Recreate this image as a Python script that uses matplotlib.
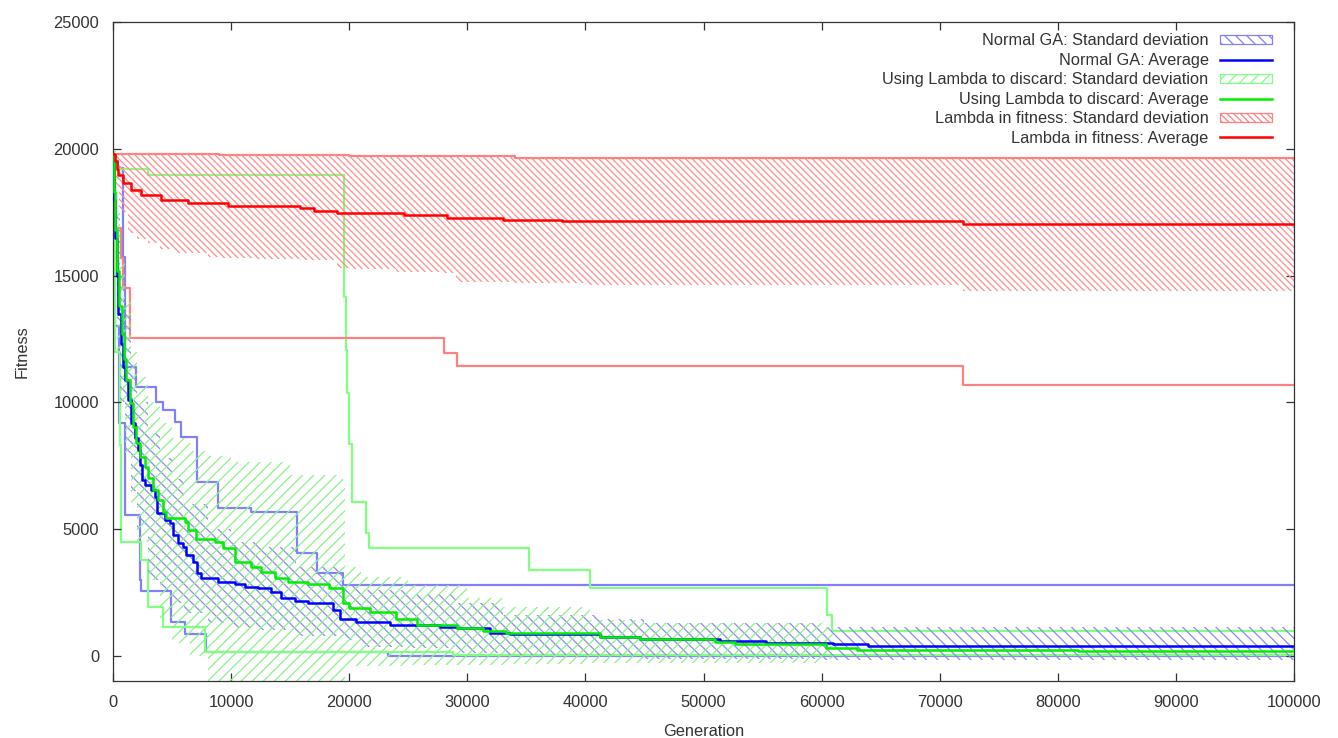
import matplotlib
matplotlib.use('Agg')
import matplotlib.pyplot as plt
from matplotlib.patches import Patch
from matplotlib.lines import Line2D

plt.rcParams['font.family'] = ['Liberation Sans', 'DejaVu Sans']
plt.rcParams['hatch.linewidth'] = 0.9

# Normal GA
blue_avg_x = [0, 50, 150, 300, 450, 650, 850, 1000, 1270, 1550, 1835, 2120, 2315, 2485, 2680, 3240, 3530,
              3750, 4380, 4800, 5080, 5500, 5930, 6210, 6770, 7140, 7480, 8890, 10300, 11150, 12280, 13400,
              14250, 15380, 16500, 18650, 19200, 20600, 23450, 27700, 29100, 31900,
              33600, 41200, 44600, 51400, 55300, 61000, 63900, 100000]
blue_avg_y = [19500, 18000, 16500, 15000, 13500, 12300, 11400, 10900, 10090, 9180, 8580, 8120, 7530, 6940,
              6740, 6545, 6280, 5630, 5360, 5230, 4770, 4440, 4310, 3980, 3720, 3260, 3060, 2930, 2840, 2730,
              2670, 2540, 2270, 2180, 2080, 1820, 1450, 1350, 1230, 1160, 1100, 900,
              870, 740, 660, 600, 525, 475, 400, 400]
blue_sd_x = [0, 300, 600, 1000, 1500, 2000, 3000, 4000, 5000, 6000, 8000, 10000, 12500, 15500, 19500,
             21000, 25000, 29000, 33000, 41000, 45000, 60000, 100000]
blue_sd_hi = [19700, 17500, 15000, 13500, 11500, 10000, 8800, 7800, 7000, 6000, 5000, 4500, 4300, 3520, 2800,
              2600, 2450, 2100, 1615, 1450, 1290, 1155, 1155]
blue_sd_lo = [19300, 13000, 10000, 8000, 6500, 5000, 3000, 2600, 2100, 1700, 1290, 1100, 1025, 800, 630,
              367, 300, 105, 40, 0, -100, -150, -225]
blue_max_x = [0, 420, 850, 1045, 1975, 3670, 4230, 5220, 5790, 7140, 8890, 11710, 15600, 17300, 19500, 100000]
blue_max_y = [19500, 19230, 15750, 11410, 10620, 10030, 9700, 9240, 8650, 6875, 5820, 5690, 4075, 3260, 2800, 2800]
blue_min_x = [0, 200, 500, 990, 2260, 2400, 4940, 6070, 7900, 23300, 100000]
blue_min_y = [18500, 13000, 9200, 5560, 3000, 2575, 1353, 867, 170, 0, 0]

# Using Lambda to discard
green_avg_x = [0, 50, 150, 300, 500, 750, 950, 1130, 1410, 1690, 1975, 2260, 2680, 2960, 3390, 3810, 4230,
               4520, 6070, 6350, 7050, 8610, 9310, 10300, 11710, 12560, 13690, 14820, 16500, 18300, 19500,
               20000, 21750, 24000, 25700, 29100, 31350,
               33300, 41200, 44600, 51000, 52700, 60400, 63000, 81700, 100000]
green_avg_y = [19800, 18300, 16800, 15200, 13800, 12700, 11700, 10880, 9960, 9040, 8390, 7860, 7460, 7010,
               6545, 6150, 5690, 5430, 5300, 4970, 4600, 4510, 4245, 3720, 3520, 3330, 3060, 2930, 2840,
               2670, 2100, 1900, 1750, 1450, 1220, 1090, 1000,
               920, 760, 660, 565, 470, 305, 240, 210, 210]
green_sd_x = [0, 300, 600, 1000, 1500, 2000, 3000, 4000, 5000, 6500, 8000, 10000, 15000, 19500, 19600,
              21000, 25000, 30000, 33000, 40400, 45000, 60400, 61000]
green_sd_hi = [19900, 17500, 15500, 14000, 12000, 11000, 10000, 9200, 8600, 8100, 7900, 7650, 7140, 6740, 3520,
               3100, 2800, 2300, 1950, 1420, 1290, 1155, 1155]
green_sd_lo = [19500, 12000, 10000, 8000, 6000, 4500, 3000, 1500, 500, 0, -1500, -1500, -1500, -1500, -400,
               -400, -350, -350, -300, -290, -290, -100, -100]
green_max_x = [0, 250, 3000, 19590, 19700, 19790, 19980, 20260, 21420, 21680, 35220, 40390, 60430, 60900, 100000]
green_max_y = [19700, 19200, 18970, 14170, 12070, 10370, 8360, 6085, 4850, 4250, 3380, 2695, 1604, 985, 985]
green_min_x = [0, 150, 560, 706, 2400, 2960, 4234, 7760, 28790, 100000]
green_min_y = [19500, 12000, 8320, 4508, 3785, 1945, 1156, 170, 30, 30]

# Lambda in fitness
red_avg_x = [0, 150, 300, 420, 850, 1550, 2400, 4090, 6350, 9740, 15830, 17000, 19000, 24600, 28300, 33000,
             38000, 72000, 100000]
red_avg_y = [19800, 19500, 19200, 18970, 18640, 18380, 18180, 18000, 17850, 17740, 17650, 17560, 17480, 17390,
             17260, 17200, 17150, 17050, 17050]
red_sd_x = [0, 200, 500, 1270, 2000, 2960, 4000, 5220, 8040, 9000, 12000, 15830, 19000, 20000, 24000, 27800,
            29000, 34000, 40000, 72000, 100000]
red_sd_hi = [19900, 19850, 19850, 19850, 19850, 19850, 19850, 19850, 19850, 19800, 19800, 19800, 19800, 19700,
             19700, 19700, 19700, 19650, 19600, 19600, 19600]
red_sd_lo = [19700, 18500, 17500, 16680, 16450, 16290, 16050, 15890, 15750, 15700, 15650, 15620, 15290, 15250,
             15150, 15090, 14760, 14700, 14620, 14400, 14300]
red_max_x = [0, 9000, 20000, 34000, 100000]
red_max_y = [19800, 19750, 19700, 19620, 19620]
red_min_x = [0, 140, 706, 850, 1400, 28030, 29100, 71970, 100000]
red_min_y = [19800, 16880, 15690, 14500, 12530, 11940, 11435, 10690, 10690]

labels = ['Normal GA: Standard deviation', 'Normal GA: Average',
          'Using Lambda to discard: Standard deviation', 'Using Lambda to discard: Average',
          'Lambda in fitness: Standard deviation', 'Lambda in fitness: Average']

fig = plt.figure(figsize=(13.38, 7.38), dpi=100)
ax = fig.add_axes([0.0845, 0.0767, 0.8826, 0.8935])

# envelope lines (not in legend)
ax.plot(blue_max_x, blue_max_y, drawstyle='steps-post', color='#8080ff', lw=1.6, zorder=1)
ax.plot(blue_min_x, blue_min_y, drawstyle='steps-post', color='#8080ff', lw=1.6, zorder=1)
ax.plot(green_max_x, green_max_y, drawstyle='steps-post', color='#80ff80', lw=1.6, zorder=1)
ax.plot(green_min_x, green_min_y, drawstyle='steps-post', color='#80ff80', lw=1.6, zorder=1)
ax.plot(red_max_x, red_max_y, drawstyle='steps-post', color='#ff8080', lw=1.6, zorder=1)
ax.plot(red_min_x, red_min_y, drawstyle='steps-post', color='#ff8080', lw=1.6, zorder=1)

ax.fill_between(blue_sd_x, blue_sd_lo, blue_sd_hi, step='post', facecolor='none',
                edgecolor='#8c8cf0', hatch='\\\\\\', linewidth=0, zorder=2)
ax.plot(blue_avg_x, blue_avg_y, drawstyle='steps-post', color='#0000ff', lw=1.8, zorder=3)
ax.fill_between(green_sd_x, green_sd_lo, green_sd_hi, step='post', facecolor='none',
                edgecolor='#8cf08c', hatch='///', linewidth=0, zorder=2)
ax.plot(green_avg_x, green_avg_y, drawstyle='steps-post', color='#00ee00', lw=1.8, zorder=3)
ax.fill_between(red_sd_x, red_sd_lo, red_sd_hi, step='post', facecolor='none',
                edgecolor='#ff8c8c', hatch='\\\\\\\\\\', linewidth=0, zorder=2)
ax.plot(red_avg_x, red_avg_y, drawstyle='steps-post', color='#ff0000', lw=1.8, zorder=3)

ax.set_xlim(0, 100000)
ax.set_ylim(-1000, 25000)
ax.set_xticks(range(0, 100001, 10000))
ax.set_yticks(range(0, 25001, 5000))
ax.tick_params(direction='in', length=6, width=0.9, top=True, right=True, pad=10,
               labelsize=11.8, labelcolor='#333333', color='#333333')
for s in ax.spines.values():
    s.set_color('#333333')
    s.set_linewidth(0.9)
ax.set_xlabel('Generation', fontsize=11.8, color='#333333', labelpad=10)
ax.set_ylabel('Fitness', fontsize=11.8, color='#333333', labelpad=17)

handles = [Patch(facecolor='none', edgecolor='#8080ff', hatch='\\\\\\', lw=0.9),
           Line2D([], [], color='#0000ff', lw=1.8),
           Patch(facecolor='none', edgecolor='#80ff80', hatch='///', lw=0.9),
           Line2D([], [], color='#00ee00', lw=1.8),
           Patch(facecolor='none', edgecolor='#ff8080', hatch='\\\\\\\\\\', lw=0.9),
           Line2D([], [], color='#ff0000', lw=1.8)]
leg = ax.legend(handles, labels, loc='upper right', bbox_to_anchor=(0.9915, 1.0), frameon=False,
                markerfirst=False, fontsize=11.8, handlelength=3.2, handleheight=0.45,
                handletextpad=0.7, labelspacing=0.27, borderaxespad=0.3)
for t in leg.get_texts():
    t.set_color('#333333')

fig.savefig('out.png', dpi=100)
